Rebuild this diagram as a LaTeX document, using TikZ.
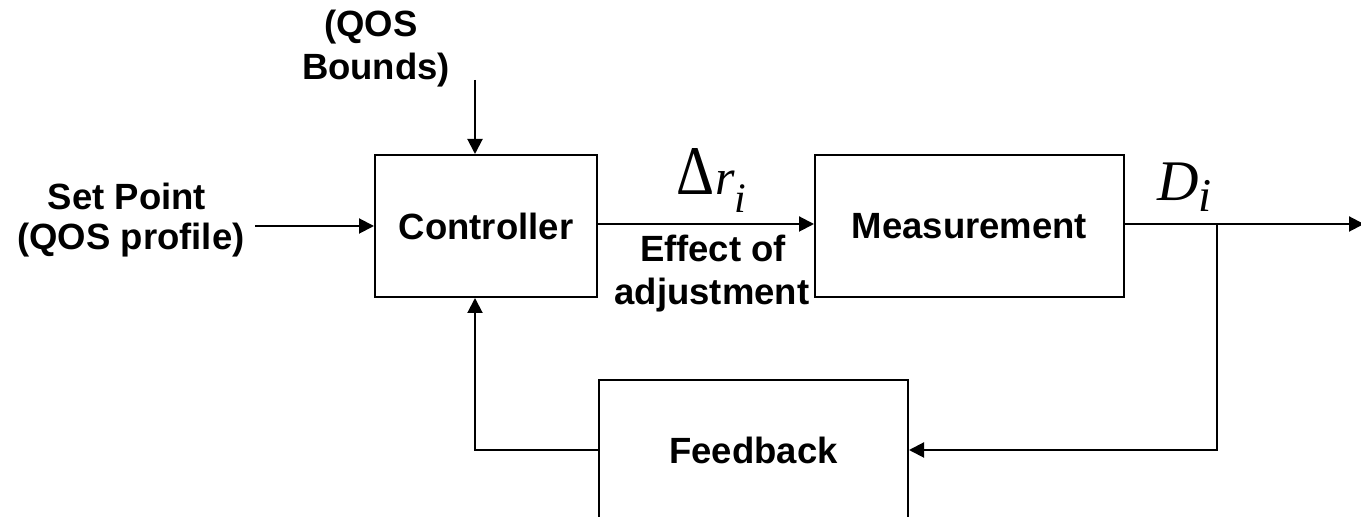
\documentclass[tikz,border=0pt]{standalone}
\usepackage{fontspec}
\usepackage{graphicx}
\setmainfont{Liberation Sans}
\newfontfamily\tms{Liberation Serif}
\usetikzlibrary{arrows.meta}
\begin{document}
\begin{tikzpicture}[x=0.5pt,y=-0.5pt,
  blk/.style={draw, line width=1pt, inner sep=0pt, font=\bfseries\fontsize{18.25}{22}\selectfont},
  lbl/.style={inner sep=0pt, font=\bfseries\fontsize{18.25}{22}\selectfont},
  conn/.style={line width=1pt, -{Triangle[length=7.5pt,width=7.5pt]}},
  wire/.style={line width=1pt}]
\path[use as bounding box] (0,0) rectangle (1361,517);
\clip (0,0) rectangle (1361,517);
% blocks
\node[blk, minimum width=111pt, minimum height=71pt] (ctrl) at (486,226) {Controller};
\node[blk, minimum width=154.5pt, minimum height=71pt] (meas) at (969.5,226) {Measurement};
\node[blk, minimum width=154.5pt, minimum height=70pt] (fb) at (753.5,450) {Feedback};
% labels
\node[lbl, anchor=base] (qos1) at (371,37) {(QOS};
\node[lbl, anchor=base] (qos2) at (376,80) {Bounds)};
\node[lbl, anchor=base] (sp1) at (127,210) {Set Point};
\node[lbl, anchor=base] (sp2) at (131,250) {(QOS profile)};
\node[lbl, anchor=base] (ef1) at (713,262) {Effect of};
\node[lbl, anchor=base] (ef2) at (712,305) {adjustment};
\node[inner sep=0pt, anchor=base west] (dr) at (676,195)
  {\resizebox{19pt}{23pt}{\tms Δ}\hspace{0.5pt}{\tms\itshape\fontsize{25}{25}\selectfont r\raisebox{-9pt}{\fontsize{21}{21}\selectfont i}}};
\node[inner sep=0pt, anchor=base west] (di) at (1157,201)
  {{\tms\itshape\fontsize{28.7}{29}\selectfont D\raisebox{-5.5pt}{\fontsize{23.5}{24}\selectfont i}}};
% coordinates
\coordinate (sp) at (255,226);
\coordinate (qtop) at (475,80);
\coordinate (yline) at (0,224);
\coordinate (out) at (1364,224);
\coordinate (tap) at (1217,224);
\coordinate (ret) at (475,0);
% connectors
\draw[conn] (sp) -- (sp -| ctrl.west);
\draw[conn] (qtop) -- (qtop |- ctrl.north);
\draw[conn] (ctrl.east |- yline) -- (meas.west |- yline);
\draw[conn] (meas.east |- yline) -- (out);
\draw[conn] (tap) |- (fb.east);
\draw[conn] (fb.west) -| (ret |- ctrl.south);
\end{tikzpicture}
\end{document}
